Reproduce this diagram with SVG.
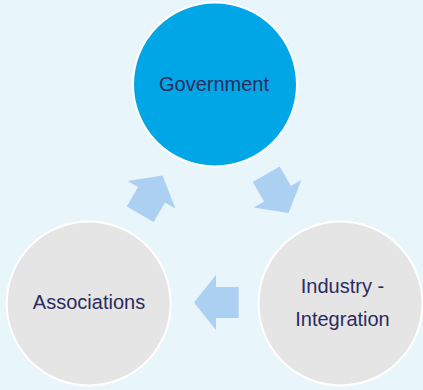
<svg xmlns="http://www.w3.org/2000/svg" width="423" height="390" viewBox="0 0 423 390">
<style>
.bg{fill:#E8F5FA}
.node{stroke:#FFFFFF;stroke-width:2}
.gov{fill:#00A6E6}
.gray{fill:#E5E5E5}
.lbl{font-family:"Liberation Sans",Arial,sans-serif;font-size:20px;fill:#2B2C5E;text-anchor:middle}
.arr{fill:#ABD0F1}
</style>
<defs>
<path id="arrow" d="M0,-15.5 L22.7,-15.5 L22.7,-27.5 L44.7,0 L22.7,27.5 L22.7,15.5 L0,15.5 Z"/>
</defs>
<rect class="bg" x="0" y="0" width="423" height="390"/>
<g id="connectors">
<use href="#arrow" class="arr" transform="translate(140.2,214.3) rotate(-60)"/>
<use href="#arrow" class="arr" transform="translate(266.2,174.2) rotate(60)"/>
<use href="#arrow" class="arr" transform="translate(238.7,302.4) rotate(180)"/>
</g>
<g id="government">
<circle class="node gov" cx="215" cy="84.5" r="82"/>
<text class="lbl" x="214" y="90.7">Government</text>
</g>
<g id="industry">
<circle class="node gray" cx="340.5" cy="303.5" r="82"/>
<text class="lbl" x="342.5" y="293.3">Industry -</text>
<text class="lbl" x="342.5" y="326.2">Integration</text>
</g>
<g id="associations">
<circle class="node gray" cx="88.7" cy="303.5" r="82"/>
<text class="lbl" x="89" y="308.8">Associations</text>
</g>
</svg>
